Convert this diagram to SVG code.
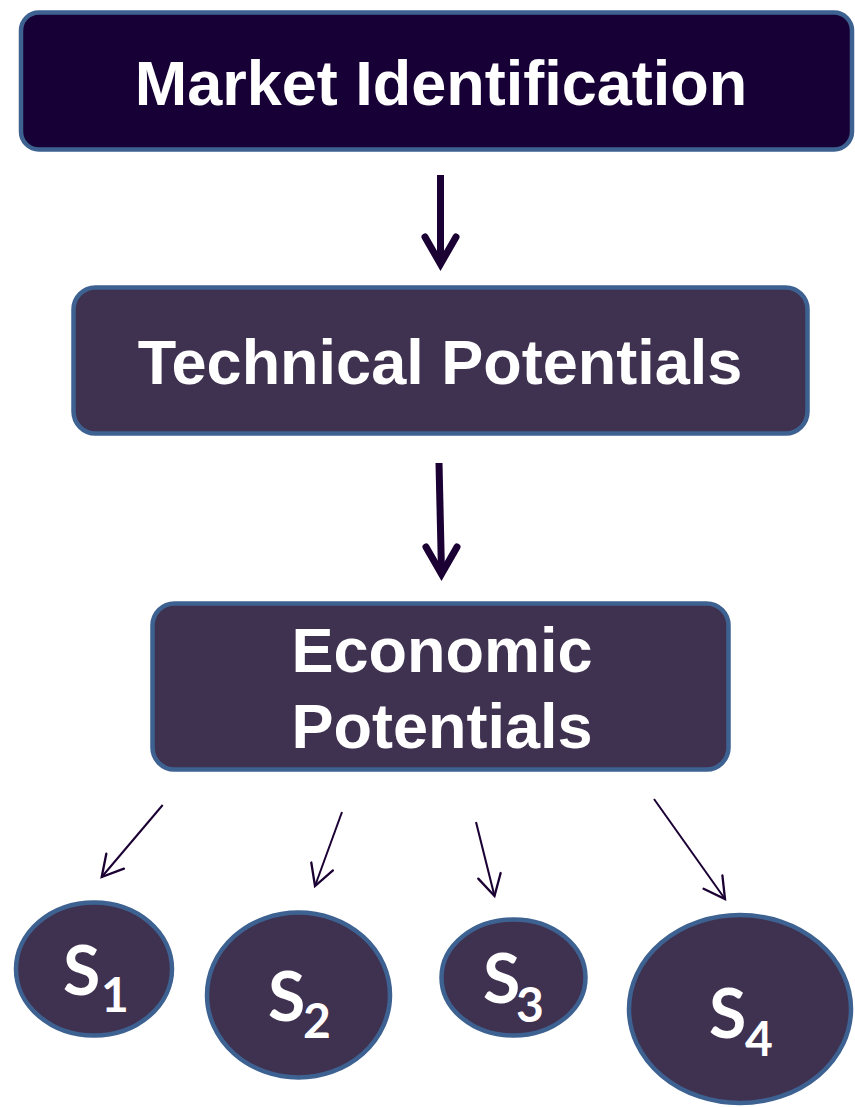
<svg xmlns="http://www.w3.org/2000/svg" width="855" height="1107" viewBox="0 0 855 1107">
<defs>
<style>
.box{fill:#3f3150;stroke:#3d6190;stroke-width:4.5}
.top{fill:#170035}
.lbl{font-family:"Liberation Sans",Arial,sans-serif;font-weight:bold;font-size:63px;fill:#ffffff;text-anchor:middle}
.s{font-family:Lato,"Open Sans",sans-serif;font-weight:bold;font-size:68px;fill:#ffffff}
.sub{font-size:48px}
.thick{stroke:#1a0033;stroke-width:7;fill:none}
.thin{stroke:#1a0033;stroke-width:2;fill:none;marker-end:url(#open)}
</style>
<marker id="open" markerUnits="userSpaceOnUse" markerWidth="30" markerHeight="30" viewBox="-22 -13 26 26" refX="0" refY="0" orient="auto">
<path d="M-18,-10 L0,0 L-18,10" fill="none" stroke="#1a0033" stroke-width="2" stroke-linecap="round" stroke-linejoin="miter"/>
</marker>
</defs>
<rect width="855" height="1107" fill="#ffffff"/>
<g id="market">
<rect class="box top" x="21" y="12.5" width="831" height="137" rx="18"/>
<text class="lbl" x="441" y="105">Market Identification</text>
</g>
<g id="technical">
<rect class="box" x="73.5" y="287.5" width="734" height="146" rx="22"/>
<text class="lbl" x="440" y="384">Technical Potentials</text>
</g>
<g id="economic">
<rect class="box" x="152.5" y="603.5" width="576" height="166" rx="22"/>
<text class="lbl" x="442" y="672">Economic</text>
<text class="lbl" x="442" y="748">Potentials</text>
</g>
<g id="s1">
<ellipse class="box" cx="94" cy="969" rx="78" ry="66.5"/>
<text class="s" x="63" y="995">S<tspan class="sub" x="101" y="1012">1</tspan></text>
</g>
<g id="s2">
<ellipse class="box" cx="298.5" cy="995" rx="91.5" ry="82.5"/>
<text class="s" x="268" y="1021">S<tspan class="sub" x="303" y="1038">2</tspan></text>
</g>
<g id="s3">
<ellipse class="box" cx="513.5" cy="977.5" rx="72" ry="58"/>
<text class="s" x="483" y="1003">S<tspan class="sub" x="516" y="1022">3</tspan></text>
</g>
<g id="s4">
<ellipse class="box" cx="740" cy="1009" rx="111" ry="94"/>
<text class="s" x="709" y="1038">S<tspan class="sub" x="745" y="1056">4</tspan></text>
</g>
<g id="connectors">
<line class="thick" x1="440.5" y1="175" x2="440.5" y2="262"/>
<polyline class="thick" points="425,237 440.5,264 456,237" stroke-linecap="round" stroke-linejoin="miter"/>
<line class="thick" x1="439" y1="463" x2="441.5" y2="572"/>
<polyline class="thick" points="426,547 441.5,574 457,547" stroke-linecap="round" stroke-linejoin="miter"/>
<line class="thin" x1="162.7" y1="805" x2="101.7" y2="877"/>
<line class="thin" x1="342" y1="812" x2="315" y2="886"/>
<line class="thin" x1="476" y1="822" x2="494.5" y2="896"/>
<line class="thin" x1="654" y1="799" x2="725" y2="899"/>
</g>
</svg>
